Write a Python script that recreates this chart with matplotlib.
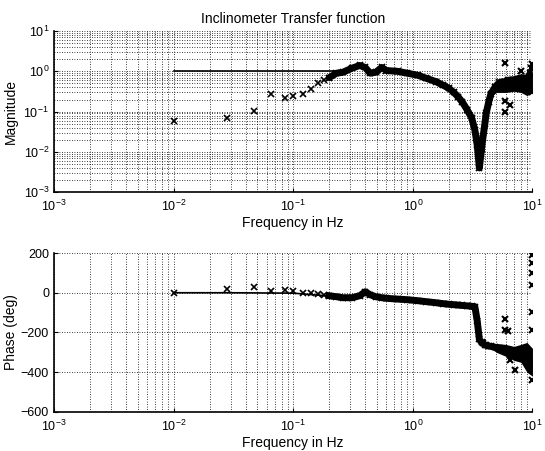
import matplotlib
matplotlib.use("Agg")
import matplotlib.pyplot as plt
from matplotlib.ticker import LogLocator, FixedLocator

plt.rcParams['font.family'] = ['Liberation Sans', 'DejaVu Sans']

# ---- data ----
model_freq = [0.01, 0.03, 0.1, 0.3]
model_mag = [1.0, 1.0, 1.0, 1.0]
model_phase = [0, 0, -2, -25]

meas_freq = [0.01, 0.028, 0.047, 0.065, 0.085, 0.10, 0.12, 0.14, 0.16, 0.18,
             0.20, 0.23, 0.26, 0.31, 0.36, 0.40, 0.44, 0.49, 0.55, 0.60,
             0.75, 0.9, 1.1, 1.3, 1.55, 1.8, 2.0, 2.2, 2.4, 2.6,
             2.85, 3.1, 3.3, 3.45, 3.6, 3.75, 3.85, 4.0, 4.1, 4.3,
             4.5, 4.9, 5.3, 5.8, 6.2, 7.0, 8.2, 9.0, 9.6]
meas_mag = [0.06, 0.07, 0.105, 0.28, 0.22, 0.25, 0.28, 0.37, 0.5, 0.6,
            0.7, 0.9, 0.95, 1.2, 1.4, 1.25, 0.9, 0.95, 1.25, 1.05,
            1.0, 0.9, 0.8, 0.67, 0.56, 0.45, 0.38, 0.3, 0.23, 0.17,
            0.11, 0.07, 0.035, 0.015, 0.004, 0.012, 0.022, 0.05, 0.09, 0.17,
            0.28, 0.42, 0.53, 0.55, 0.6, 0.62, 0.7, 0.65, 0.9]
meas_phase = [0, 20, 30, 10, 12, 8, 0, -3, -8, -10,
              -15, -20, -25, -25, -15, 5, -10, -20, -25, -28,
              -32, -35, -40, -45, -50, -55, -58, -60, -62, -64,
              -66, -68, -70, -140, -235, -250, -255, -262, -265, -268,
              -270, -275, -280, -285, -290, -300, -318, -330, -360]

# scatter band at high frequency (lower / upper envelope)
band_freq = [4.6, 5.0, 6.0, 7.0, 8.0, 9.0, 10.0]
band_mag_lo = [0.25, 0.3, 0.3, 0.32, 0.3, 0.25, 0.3]
band_mag_hi = [0.4, 0.6, 0.7, 0.75, 0.8, 0.85, 1.0]
band_ph_lo = [-285, -300, -320, -340, -350, -400, -420]
band_ph_hi = [-255, -255, -260, -270, -260, -250, -280]

out_freq = [5.9, 5.9, 5.9, 6.5, 8.0, 9.9, 9.9, 9.7]
out_mag = [1.57, 0.18, 0.1, 0.15, 1.0, 1.5, 0.3, 1.2]
outp_freq = [5.9, 5.9, 6.2, 6.5, 7.2, 9.9, 9.9, 9.9, 9.9, 9.9, 9.9, 9.9]
outp_phase = [-130, -185, -190, -340, -390, 190, 150, 100, 40, -95, -185, -440]

# ---- figure ----
fig = plt.figure(figsize=(5.45, 4.51), dpi=100)
ax1 = fig.add_axes([0.099, 0.574, 0.878, 0.357])
ax2 = fig.add_axes([0.099, 0.0865, 0.878, 0.3525])

grid_kw = dict(color='black', linestyle=(0, (1, 2)), linewidth=0.6)

def style(ax):
    ax.set_xscale('log')
    ax.set_xlim(1e-3, 1e1)
    ax.xaxis.set_major_locator(LogLocator(base=10, numticks=10))
    ax.xaxis.set_minor_locator(LogLocator(base=10, subs=range(2, 10), numticks=10))
    ax.xaxis.set_minor_formatter(plt.NullFormatter())
    ax.spines['top'].set_visible(False)
    ax.spines['right'].set_visible(False)
    ax.spines['left'].set_linewidth(1.2)
    ax.spines['bottom'].set_linewidth(1.2)
    ax.tick_params(direction='in', length=3, labelsize=9, which='major')
    ax.tick_params(axis='x', pad=5)
    ax.tick_params(direction='in', length=0, which='minor')
    ax.grid(True, which='both', axis='x', **grid_kw)
    ax.set_axisbelow(True)

# magnitude
style(ax1)
ax1.set_yscale('log')
ax1.set_ylim(1e-3, 1e1)
ax1.yaxis.set_major_locator(LogLocator(base=10, numticks=10))
ax1.yaxis.set_minor_locator(LogLocator(base=10, subs=range(2, 10), numticks=10))
ax1.yaxis.set_minor_formatter(plt.NullFormatter())
ax1.grid(True, which='both', axis='y', **grid_kw)
ax1.plot(model_freq, model_mag, color='black', linewidth=1.2)
ax1.plot(meas_freq[10:], meas_mag[10:], color='black', linewidth=5, solid_capstyle='round')
ax1.fill_between(band_freq, band_mag_lo, band_mag_hi, color='black', linewidth=0)
ax1.plot(meas_freq, meas_mag, linestyle='none', marker='x', color='black', markersize=4, mew=1.2)
ax1.plot(out_freq, out_mag, linestyle='none', marker='x', color='black', markersize=5, mew=1.5)
ax1.set_title('Inclinometer Transfer function', fontsize=10, pad=6)
ax1.set_xlabel('Frequency in Hz', fontsize=10, labelpad=1)
ax1.set_ylabel('Magnitude', fontsize=10, labelpad=4)

# phase
style(ax2)
ax2.set_ylim(-600, 200)
ax2.yaxis.set_major_locator(FixedLocator([-600, -400, -200, 0, 200]))
ax2.grid(True, which='major', axis='y', **grid_kw)
ax2.plot(model_freq, model_phase, color='black', linewidth=1.2)
ax2.plot(meas_freq[10:], meas_phase[10:], color='black', linewidth=5)
ax2.fill_between(band_freq, band_ph_lo, band_ph_hi, color='black', linewidth=0)
ax2.plot(meas_freq, meas_phase, linestyle='none', marker='x', color='black', markersize=4, mew=1.2)
ax2.plot(outp_freq, outp_phase, linestyle='none', marker='x', color='black', markersize=5, mew=1.5)
ax2.set_xlabel('Frequency in Hz', fontsize=10, labelpad=1)
ax2.set_ylabel('Phase (deg)', fontsize=10, labelpad=2)

fig.savefig('out.png', dpi=100)
